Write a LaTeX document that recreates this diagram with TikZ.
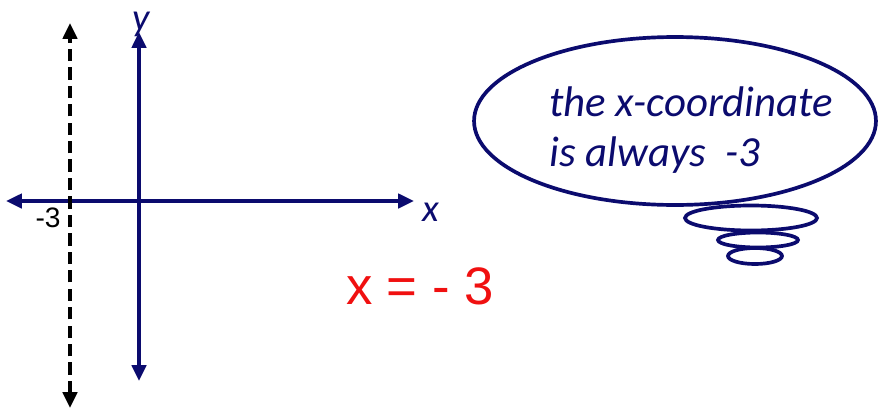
\documentclass[tikz,border=0pt]{standalone}
\usepackage{fontspec}
\setmainfont{Carlito}
\newfontfamily\handfont{Liberation Sans}
\usetikzlibrary{arrows.meta,shapes.geometric}
\definecolor{navy}{HTML}{0B0B6E}
\definecolor{penred}{HTML}{F01010}

\begin{document}
\begin{tikzpicture}[x=0.02cm, y=-0.02cm,
  axis/.style={draw=navy, line width=2.2pt, {Triangle[length=9pt,width=8pt]}-{Triangle[length=9pt,width=8pt]}},
  guide/.style={draw=black, line width=2.2pt, dash pattern=on 7pt off 3.5pt, {Triangle[length=9pt,width=8pt]}-{Triangle[length=9pt,width=8pt]}},
  bubble/.style={draw=navy, ellipse, line width=2.1pt, inner sep=0pt},
  lbl/.style={font=\itshape\fontsize{22}{24}\selectfont, text=navy, inner sep=0pt},
  thought/.style={font=\itshape\fontsize{24.4}{28.5}\selectfont, text=navy, align=left, anchor=west, inner sep=0pt}]
  \useasboundingbox (0,0) rectangle (878,409);
  % axes
  \coordinate (xl) at (6,201);
  \coordinate (xr) at (414,201);
  \coordinate (yt) at (139,32);
  \coordinate (yb) at (139,381);
  \coordinate (dt) at (70,23);
  \coordinate (db) at (70,408);
  \draw[axis] (xl) -- (xr);
  \draw[axis] (yb) -- (yt);
  \draw[guide] (db) -- (dt);
  \node[lbl] (ylab) at (141,24) {y};
  \node[lbl] (xlab) at (431,212) {x};
  \node[font=\handfont\fontsize{16}{18}\selectfont, inner sep=0pt] (m3) at (48,218) {-3};
  % answer
  \node[font=\handfont\fontsize{30}{34}\selectfont, text=penred] (ans) at (420,286) {x = - 3};
  % thought bubble
  \node[bubble, minimum width=8.04cm, minimum height=3.36cm] (cloud) at (675,121) {};
  \node[bubble, minimum width=2.64cm, minimum height=0.5cm] (puff1) at (751,218) {};
  \node[bubble, minimum width=1.6cm, minimum height=0.3cm] (puff2) at (758,240) {};
  \node[bubble, minimum width=1.08cm, minimum height=0.32cm] (puff3) at (755,256) {};
  \node[thought] (say) at (549,130) {the x-coordinate\\is always\ \ -3};
\end{tikzpicture}
\end{document}
